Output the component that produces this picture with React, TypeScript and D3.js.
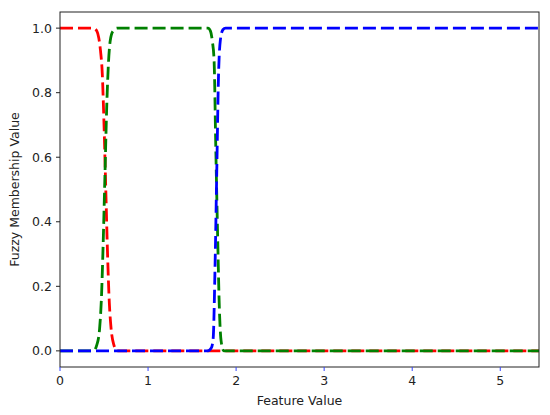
import React from 'react';
import * as d3 from 'd3';

// membership curves
const redX = [0, 0.38, 0.42, 0.44, 0.46, 0.48, 0.5, 0.52, 0.54, 0.56, 0.58, 0.61, 0.65, 5.44];
const redY = [1, 1, 0.99, 0.97, 0.93, 0.86, 0.7, 0.5, 0.3, 0.15, 0.07, 0.02, 0, 0];

const greenX = [0, 0.38, 0.42, 0.45, 0.47, 0.49, 0.51, 0.53, 0.55, 0.57, 0.6, 0.65, 1.68, 1.71, 1.73, 1.75, 1.77, 1.79, 1.81, 1.83, 1.86, 5.44];
const greenY = [0, 0, 0.02, 0.07, 0.16, 0.33, 0.54, 0.75, 0.89, 0.96, 0.99, 1, 1, 0.99, 0.96, 0.9, 0.62, 0.36, 0.13, 0.03, 0, 0];

const blueX = [0, 1.68, 1.72, 1.74, 1.76, 1.78, 1.8, 1.82, 1.85, 1.88, 5.44];
const blueY = [0, 0, 0.01, 0.04, 0.25, 0.55, 0.85, 0.96, 0.995, 1, 1];

const xTicks = [0, 1, 2, 3, 4, 5];
const yTicks = [0, 0.2, 0.4, 0.6, 0.8, 1.0];

const series = [
  { name: 'red', color: '#ff0000', xs: redX, ys: redY },
  { name: 'green', color: '#008000', xs: greenX, ys: greenY },
  { name: 'blue', color: '#0000ff', xs: blueX, ys: blueY },
];

export default function App() {
  const width = 550;
  const height = 415;
  const margin = { top: 12, right: 11, bottom: 48, left: 60 };

  const x = d3.scaleLinear().domain([0, 5.44]).range([margin.left, width - margin.right]);
  const y = d3.scaleLinear().domain([-0.05, 1.05]).range([height - margin.bottom, margin.top]);

  const line = d3
    .line<[number, number]>()
    .x((d) => x(d[0]))
    .y((d) => y(d[1]))
    .curve(d3.curveMonotoneX);

  const plotBottom = height - margin.bottom;
  const font = 'DejaVu Sans, sans-serif';

  return (
    <div style={{ position: 'fixed', left: 0, top: 0 }}>
      <svg width={width} height={height} style={{ display: 'block', background: 'white', fontFamily: font }}>
        <defs>
          <clipPath id="plot-clip">
            <rect x={margin.left} y={margin.top} width={width - margin.left - margin.right} height={plotBottom - margin.top} />
          </clipPath>
        </defs>
        <g clipPath="url(#plot-clip)">
          {series.map((s) => (
            <path
              key={s.name}
              d={line(s.xs.map((v, i) => [v, s.ys[i]] as [number, number])) || ''}
              fill="none"
              stroke={s.color}
              strokeWidth={2.8}
              strokeDasharray="13,5"
            />
          ))}
        </g>
        <rect
          x={margin.left}
          y={margin.top}
          width={width - margin.left - margin.right}
          height={plotBottom - margin.top}
          fill="none"
          stroke="#222"
          strokeWidth={1}
        />
        <g key="x-axis">
          {xTicks.map((t) => (
            <g key={`xt-${t}`} transform={`translate(${x(t)},${plotBottom})`}>
              <line y2={4} stroke="#3344ff" strokeWidth={1} />
              <text y={18} textAnchor="middle" fontSize={12.5} fill="#222">{t}</text>
            </g>
          ))}
          <text x={(margin.left + width - margin.right) / 2} y={405} textAnchor="middle" fontSize={12.5} fill="#222">
            Feature Value
          </text>
        </g>
        <g key="y-axis">
          {yTicks.map((t) => (
            <g key={`yt-${t}`} transform={`translate(${margin.left},${y(t)})`}>
              <line x2={-4} stroke="#222" strokeWidth={1} />
              <text x={-8} dy="0.35em" textAnchor="end" fontSize={12.5} fill="#222">{t.toFixed(1)}</text>
            </g>
          ))}
          <text
            transform={`translate(19,${(margin.top + plotBottom) / 2}) rotate(-90)`}
            textAnchor="middle"
            fontSize={12.5}
            fill="#222"
          >
            Fuzzy Membership Value
          </text>
        </g>
      </svg>
    </div>
  );
}
